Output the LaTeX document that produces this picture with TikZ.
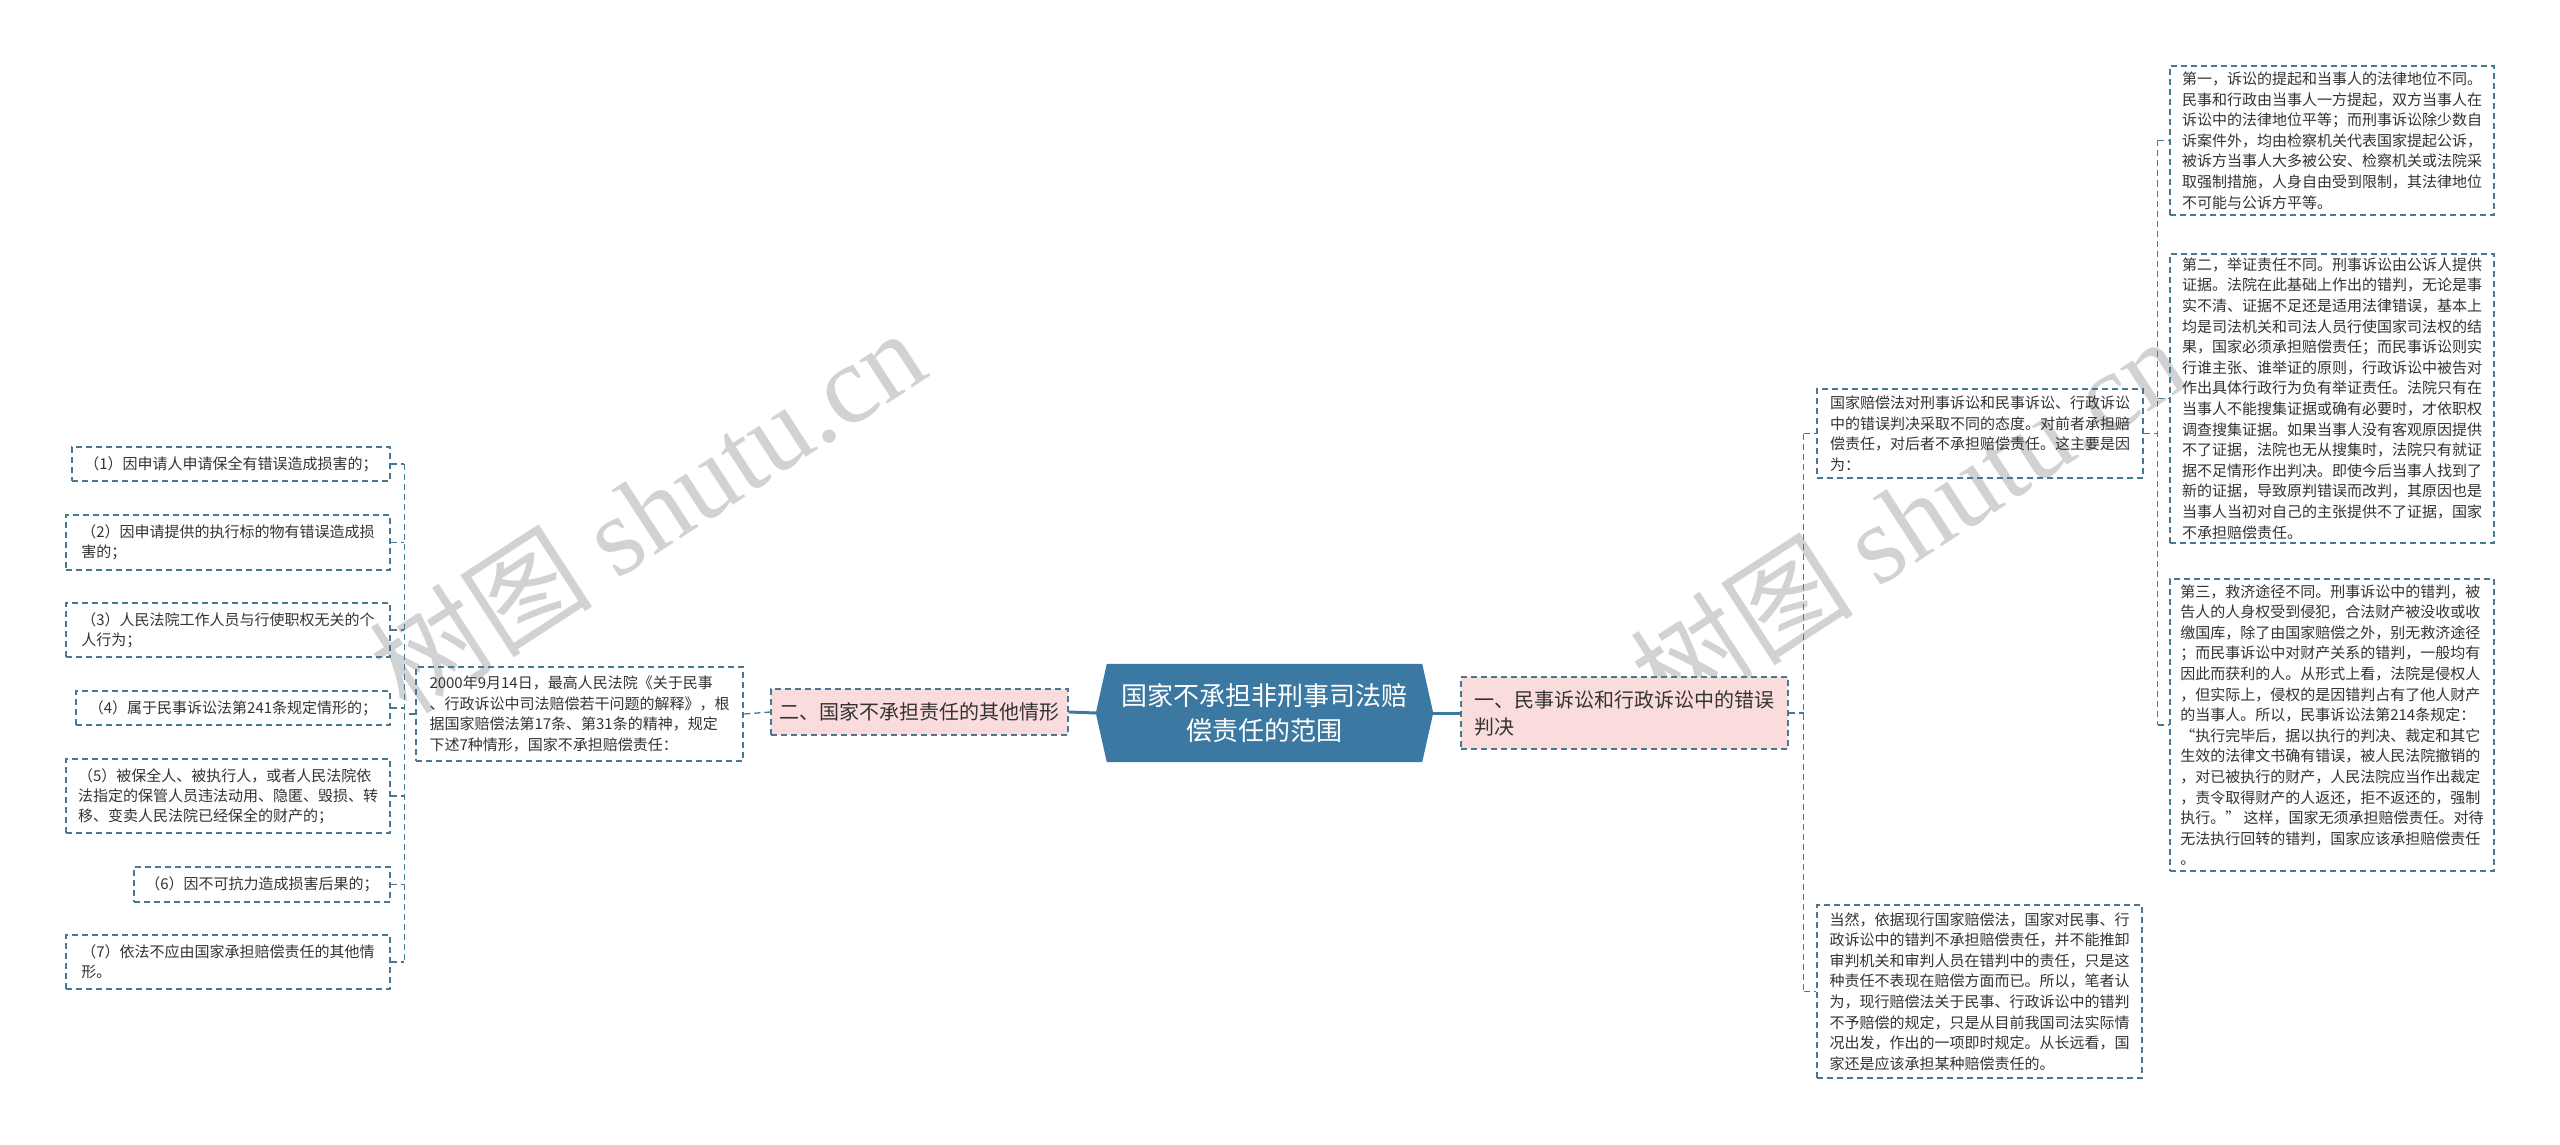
\documentclass[tikz,border=0pt]{standalone}
\usepackage{fontspec}
\setmainfont{Noto Sans CJK SC}
\newfontfamily\wmserif{Liberation Serif}
\pgfdeclarelayer{bg}
\pgfsetlayers{bg,main}
\definecolor{lineblue}{HTML}{4A7892}
\definecolor{hexblue}{HTML}{3C79A2}
\definecolor{pinkfill}{HTML}{FBDCDC}
\definecolor{txt}{HTML}{333333}
\definecolor{wmgray}{HTML}{D2D2D2}
\tikzset{
  leaf/.style={draw=lineblue, dash pattern=on 6pt off 4pt, line width=1.3pt,
    inner xsep=8pt, inner ysep=3pt, align=left, text=txt,
    font=\fontsize{15}{20.6}\selectfont},
  leafl/.style={leaf, font=\fontsize{15}{19.8}\selectfont},
  branchbox/.style={leaf, fill=pinkfill, font=\fontsize{20}{27}\selectfont},
  centerbox/.style={inner sep=0pt, align=center, text=white,
    font=\fontsize{26}{35}\selectfont},
  link/.style={draw=lineblue, dash pattern=on 6pt off 4pt, line width=1.3pt},
  mainlink/.style={draw=hexblue, line width=3pt},
  wm/.style={rotate=33, text=wmgray, inner sep=0pt, font=\fontsize{112}{112}\selectfont}
}
\begin{document}
\begin{tikzpicture}[x=1pt, y=-1pt]
\begin{pgfonlayer}{bg}
\fill[white] (0,0) rectangle (2560,1145);
\end{pgfonlayer}
\useasboundingbox (0,0) rectangle (2560,1145);

% watermarks
\node[wm] (wm1) at (647,510) {树图 {\wmserif shutu.cn}};
\node[wm] (wm2) at (1908,518) {树图 {\wmserif shutu.cn}};

% center
\node[centerbox, minimum width=315pt, minimum height=98pt] (c) at (1264.5,713)
  {国家不承担非刑事司法赔\\偿责任的范围};
\begin{pgfonlayer}{bg}
\fill[hexblue] (c.north west) -- (c.north east) -- ([xshift=11pt]c.east)
  -- (c.south east) -- (c.south west) -- ([xshift=-11pt]c.west) -- cycle;
\end{pgfonlayer}

% branches
\node[branchbox, minimum width=327pt, minimum height=72pt] (b1) at (1624.5,713)
  {一、民事诉讼和行政诉讼中的错误\\判决};
\node[branchbox, minimum width=297pt, minimum height=46pt] (b2) at (919.5,712)
  {二、国家不承担责任的其他情形};

% right middle
\node[leaf, minimum width=326pt, minimum height=89pt] (m1) at (1980,433.5)
  {国家赔偿法对刑事诉讼和民事诉讼、行政诉讼\\中的错误判决采取不同的态度。对前者承担赔\\偿责任，对后者不承担赔偿责任。这主要是因\\为：};
\node[leaf, minimum width=325pt, minimum height=173pt] (m2) at (1979.5,991.5)
  {当然，依据现行国家赔偿法，国家对民事、行\\政诉讼中的错判不承担赔偿责任，并不能推卸\\审判机关和审判人员在错判中的责任，只是这\\种责任不表现在赔偿方面而已。所以，笔者认\\为，现行赔偿法关于民事、行政诉讼中的错判\\不予赔偿的规定，只是从目前我国司法实际情\\况出发，作出的一项即时规定。从长远看，国\\家还是应该承担某种赔偿责任的。};

% right column
\node[leaf, minimum width=324pt, minimum height=149pt] (r1) at (2332,140.5)
  {第一，诉讼的提起和当事人的法律地位不同。\\民事和行政由当事人一方提起，双方当事人在\\诉讼中的法律地位平等；而刑事诉讼除少数自\\诉案件外，均由检察机关代表国家提起公诉，\\被诉方当事人大多被公安、检察机关或法院采\\取强制措施，人身自由受到限制，其法律地位\\不可能与公诉方平等。};
\node[leaf, minimum width=324pt, minimum height=289pt] (r2) at (2332,398.5)
  {第二，举证责任不同。刑事诉讼由公诉人提供\\证据。法院在此基础上作出的错判，无论是事\\实不清、证据不足还是适用法律错误，基本上\\均是司法机关和司法人员行使国家司法权的结\\果，国家必须承担赔偿责任；而民事诉讼则实\\行谁主张、谁举证的原则，行政诉讼中被告对\\作出具体行政行为负有举证责任。法院只有在\\当事人不能搜集证据或确有必要时，才依职权\\调查搜集证据。如果当事人没有客观原因提供\\不了证据，法院也无从搜集时，法院只有就证\\据不足情形作出判决。即使今后当事人找到了\\新的证据，导致原判错误而改判，其原因也是\\当事人当初对自己的主张提供不了证据，国家\\不承担赔偿责任。};
\node[leaf, minimum width=324pt, minimum height=292pt] (r3) at (2332,725)
  {第三，救济途径不同。刑事诉讼中的错判，被\\告人的人身权受到侵犯，合法财产被没收或收\\缴国库，除了由国家赔偿之外，别无救济途径\\；而民事诉讼中对财产关系的错判，一般均有\\因此而获利的人。从形式上看，法院是侵权人\\，但实际上，侵权的是因错判占有了他人财产\\的当事人。所以，民事诉讼法第214条规定：\\“执行完毕后，据以执行的判决、裁定和其它\\生效的法律文书确有错误，被人民法院撤销的\\，对已被执行的财产，人民法院应当作出裁定\\，责令取得财产的人返还，拒不返还的，强制\\执行。” 这样，国家无须承担赔偿责任。对待\\无法执行回转的错判，国家应该承担赔偿责任\\。};

% left middle
\node[leaf, minimum width=327pt, minimum height=94pt] (l0) at (579.5,714)
  {2000年9月14日，最高人民法院《关于民事\\、行政诉讼中司法赔偿若干问题的解释》，根\\据国家赔偿法第17条、第31条的精神，规定\\下述7种情形，国家不承担赔偿责任：};

% left column
\node[leafl, minimum width=318pt, minimum height=34pt] (L1) at (231,464)
  {（1）因申请人申请保全有错误造成损害的；};
\node[leafl, minimum width=324pt, minimum height=55pt] (L2) at (228,542.5)
  {（2）因申请提供的执行标的物有错误造成损\\害的；};
\node[leafl, minimum width=324pt, minimum height=54pt] (L3) at (228,630)
  {（3）人民法院工作人员与行使职权无关的个\\人行为；};
\node[leafl, minimum width=314pt, minimum height=34pt] (L4) at (233,708)
  {（4）属于民事诉讼法第241条规定情形的；};
\node[leafl, minimum width=324pt, minimum height=74pt] (L5) at (228,796)
  {（5）被保全人、被执行人，或者人民法院依\\法指定的保管人员违法动用、隐匿、毁损、转\\移、变卖人民法院已经保全的财产的；};
\node[leafl, minimum width=256pt, minimum height=35pt] (L6) at (262,884.5)
  {（6）因不可抗力造成损害后果的；};
\node[leafl, minimum width=324pt, minimum height=54pt] (L7) at (228,962)
  {（7）依法不应由国家承担赔偿责任的其他情\\形。};

% main links
\draw[mainlink] ([xshift=11pt]c.east) -- (b1.west);
\draw[mainlink] ([xshift=-11pt]c.west) -- (b2.east);

% left side links
\draw[link] (b2.west) -- (l0.east);
\coordinate (lj) at ([xshift=-11pt]l0.west);
\draw[link] (l0.west) -- (lj);
\draw[link] (lj |- L1.east) -- (lj |- L7.east);
\foreach \n in {L1,L2,L3,L4,L5,L6,L7} { \draw[link] (\n.east) -- (lj |- \n.east); }

% right side links
\coordinate (rj) at ([xshift=15pt]b1.east);
\draw[link] (b1.east) -- (rj);
\draw[link] (rj |- m1.west) -- (rj |- m2.west);
\foreach \n in {m1,m2} { \draw[link] (rj |- \n.west) -- (\n.west); }

\coordinate (fj) at ([xshift=14pt]m1.east);
\draw[link] (m1.east) -- (fj);
\draw[link] (fj |- r1.west) -- (fj |- r3.west);
\foreach \n in {r1,r2,r3} { \draw[link] (fj |- \n.west) -- (\n.west); }
\end{tikzpicture}
\end{document}
